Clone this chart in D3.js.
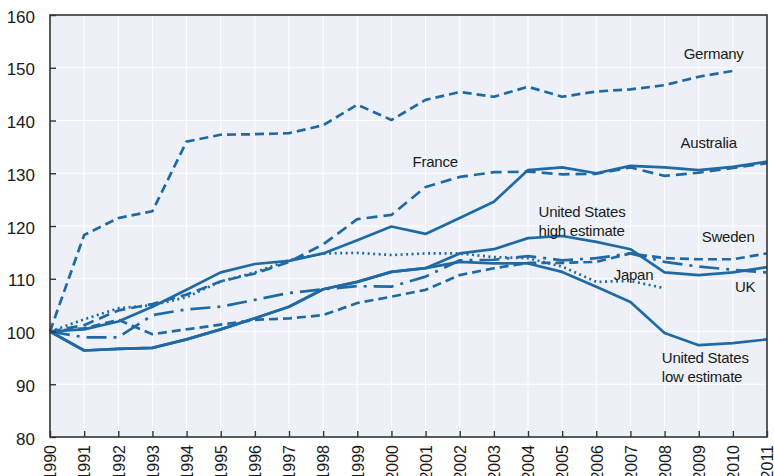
<!DOCTYPE html>
<html>
<head>
<meta charset="utf-8">
<script src="https://cdn.jsdelivr.net/npm/d3@7"></script>
<style>
  html, body { margin: 0; padding: 0; background: #fff; }
  svg { display: block; }
  text { font-family: "Liberation Sans", Arial, sans-serif; fill: #1a1a1a; }
</style>
</head>
<body>
<svg id="chart" width="774" height="476"></svg>
<script>
const years = [1990,1991,1992,1993,1994,1995,1996,1997,1998,1999,2000,2001,2002,2003,2004,2005,2006,2007,2008,2009,2010,2011];
const yTicks = [80,90,100,110,120,130,140,150,160];

const germany   = [100,118.3,121.5,122.8,136.0,137.3,137.4,137.6,139.1,143.0,140.1,143.9,145.4,144.5,146.4,144.5,145.5,145.9,146.7,148.3,149.4,null];
const australia = [100,100.4,101.9,104.7,107.9,111.2,112.8,113.4,114.8,117.3,119.9,118.5,121.5,124.6,130.6,131.1,130.0,131.4,131.1,130.6,131.2,132.2];
const france    = [100,101.2,104.0,105.2,107.0,109.5,111.0,113.2,116.5,121.3,122.1,127.4,129.3,130.2,130.3,129.8,129.9,131.1,129.5,130.1,131.0,131.9];
const usHigh    = [100,96.4,96.7,96.9,98.5,100.4,102.5,104.7,108.0,109.4,111.3,112.0,114.8,115.6,117.7,118.1,117.0,115.6,111.2,110.7,111.2,112.2];
const usLow     = [100,96.4,96.7,96.9,98.5,100.4,102.5,104.7,108.0,109.4,111.3,112.0,113.2,112.9,112.9,111.3,108.5,105.6,99.7,97.4,97.8,98.5];
const sweden    = [100,100.6,102.2,99.5,100.4,101.3,102.2,102.5,103.1,105.4,106.6,107.9,110.7,112.0,113.0,113.0,113.2,114.8,113.9,113.7,113.7,114.8];
const japan     = [100,102.3,104.4,105.0,106.5,109.5,111.2,113.5,114.8,114.9,114.5,114.8,114.8,114.1,113.9,112.3,109.4,109.6,108.2,null,null,null];
const uk        = [100,98.9,98.9,103.1,104.2,104.7,106.0,107.3,108.0,108.6,108.5,110.4,113.5,113.6,114.3,113.5,113.9,114.8,113.2,112.3,111.7,111.2];

const seriesNames = ["Germany","Australia","France","United States high estimate","United States low estimate","Sweden","Japan","UK"];
const seriesValues = [germany, australia, france, usHigh, usLow, sweden, japan, uk];
const seriesDash = ["9,5", null, "11,6", null, null, "9,5", "2,3.5", "20,7,3,7"];

const labelNames = [["Germany"],["Australia"],["France"],["United States","high estimate"],["Sweden"],["Japan"],["UK"],["United States","low estimate"]];
const labelYear  = [2008.56, 2008.47, 2000.62, 2004.31, 2009.09, 2006.51, 2010.06, 2007.92];
const labelValue = [151.75, 134.7, 131.1, 121.8, 116.9, 109.7, 107.4, 94.1];

const color = "#1f6aa5";
const svg = d3.select("#chart");
const margin = {left: 50, right: 7, top: 15, bottom: 39};
const W = 774, H = 476;
const x = d3.scaleLinear().domain([1990, 2011]).range([margin.left, W - margin.right]);
const y = d3.scaleLinear().domain([80, 160]).range([H - margin.bottom, margin.top]);

// background
svg.append("rect")
  .attr("x", x(1990)).attr("y", y(160))
  .attr("width", x(2011) - x(1990)).attr("height", y(80) - y(160))
  .attr("fill", "#edf1f7");

// grid
const grid = svg.append("g").attr("stroke", "#ffffff").attr("stroke-width", 1);
grid.selectAll("line.v").data(years).join("line")
  .attr("x1", d => x(d)).attr("x2", d => x(d))
  .attr("y1", y(160)).attr("y2", y(80));
grid.selectAll("line.h").data(yTicks).join("line")
  .attr("x1", x(1990)).attr("x2", x(2011))
  .attr("y1", d => y(d)).attr("y2", d => y(d));

// lines
const line = d3.line()
  .defined(d => d != null)
  .x((d, i) => x(years[i]))
  .y(d => y(d));

seriesValues.forEach((vals, k) => {
  svg.append("path")
    .attr("d", line(vals))
    .attr("fill", "none")
    .attr("stroke", color)
    .attr("stroke-width", 2.7)
    .attr("stroke-linejoin", "round")
    .attr("stroke-dasharray", seriesDash[k]);
});

// border
svg.append("rect")
  .attr("x", x(1990)).attr("y", y(160))
  .attr("width", x(2011) - x(1990)).attr("height", y(80) - y(160))
  .attr("fill", "none").attr("stroke", "#333").attr("stroke-width", 1.6);

// axes
const yAxis = d3.axisLeft(y).tickValues(yTicks).tickSize(-6).tickPadding(15).tickFormat(d3.format("d"));
const gy = svg.append("g").attr("transform", `translate(${x(1990)},0)`).call(yAxis);
gy.select(".domain").remove();
gy.selectAll(".tick line").attr("stroke", "#333").attr("stroke-width", 1.4);
gy.selectAll(".tick text")
  .style("font-size", "17px").style("font-family", "'Liberation Sans', Arial, sans-serif")
  .attr("fill", "#1a1a1a").attr("dy", "0.42em");

const xAxis = d3.axisBottom(x).tickValues(years).tickSize(-6).tickFormat(d3.format("d"));
const gx = svg.append("g").attr("transform", `translate(0,${y(80)})`).call(xAxis);
gx.select(".domain").remove();
gx.selectAll(".tick line").attr("stroke", "#333").attr("stroke-width", 1.4);
gx.selectAll(".tick text")
  .style("font-size", "16px").style("font-family", "'Liberation Sans', Arial, sans-serif")
  .attr("fill", "#1a1a1a")
  .attr("transform", "rotate(-90)")
  .attr("text-anchor", "end")
  .attr("x", -8).attr("y", 0).attr("dy", "0.36em");

// labels
labelNames.forEach((lines, k) => {
  const t = svg.append("text")
    .attr("x", x(labelYear[k]))
    .attr("y", y(labelValue[k]))
    .style("font-size", "15px")
    .style("letter-spacing", "-0.25px");
  lines.forEach((s, j) => {
    t.append("tspan").attr("x", x(labelYear[k])).attr("dy", j === 0 ? 0 : 19.5).text(s);
  });
});
</script>
</body>
</html>
